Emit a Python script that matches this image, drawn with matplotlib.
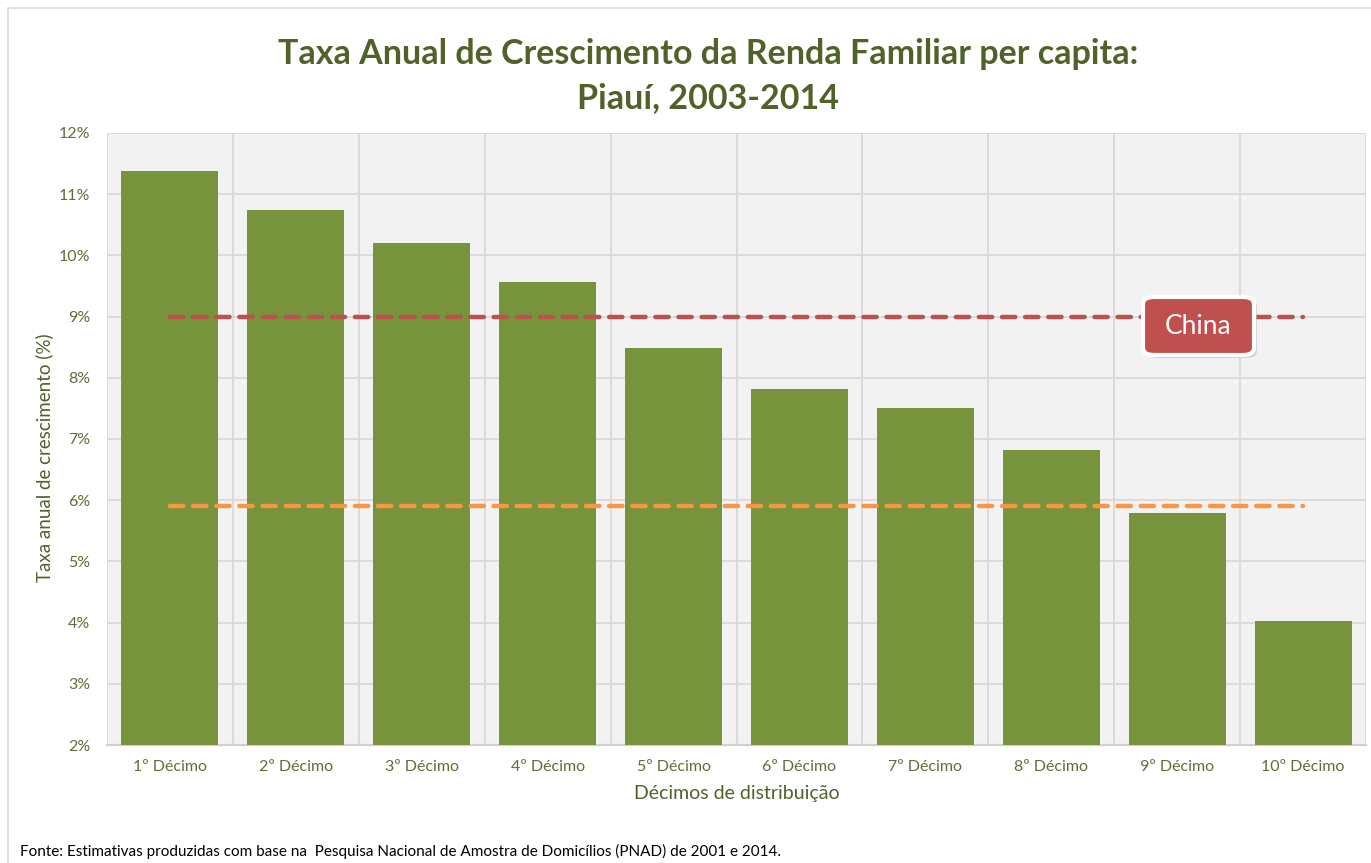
import matplotlib
matplotlib.use("Agg")
import matplotlib.pyplot as plt
from matplotlib.patches import Rectangle, FancyBboxPatch
from matplotlib.ticker import FuncFormatter, MultipleLocator
import numpy as np

categories = ["1º Décimo", "2º Décimo", "3º Décimo", "4º Décimo", "5º Décimo",
              "6º Décimo", "7º Décimo", "8º Décimo", "9º Décimo", "10º Décimo"]
growth = [11.38, 10.74, 10.21, 9.57, 8.48, 7.81, 7.50, 6.82, 5.79, 4.02]
china = [9.0] * 10
brasil = [5.9] * 10

title = "Taxa Anual de Crescimento da Renda Familiar per capita:\nPiauí, 2003-2014"
ylabel = "Taxa anual de crescimento (%)"
xlabel = "Décimos de distribuição"
source = "Fonte: Estimativas produzidas com base na  Pesquisa Nacional de Amostra de Domicílios (PNAD) de 2001 e 2014."

FONT = ["Lato", "DejaVu Sans"]
plt.rcParams['font.family'] = FONT

BAR = "#77933C"
DARK = "#4F6228"
TICK = "#5E6E3A"
RED = "#C0504D"
ORANGE = "#F79646"
GRID = "#D9D9D9"

fig = plt.figure(figsize=(13.71, 8.63), dpi=100)
fig.patch.set_facecolor("white")
fig.add_artist(Rectangle((8 / 1371, -0.01), 1.0, 1 - 8 / 863 + 0.01, transform=fig.transFigure,
                         fill=False, edgecolor=GRID, linewidth=1.2))

ax = fig.add_axes([107 / 1371, 1 - 745 / 863, (1366 - 107) / 1371, (745 - 133) / 863])
ax.set_facecolor("#F2F2F2")
x = np.arange(len(categories))
ax.bar(x, growth, width=0.77, color=BAR, zorder=3)
ax.plot(x, china, color=RED, lw=3.2, dashes=(3, 2.2), dash_capstyle="round", zorder=4)
ax.plot(x, brasil, color=ORANGE, lw=3.2, dashes=(3, 2.2), dash_capstyle="round", zorder=4)

ax.set_xlim(-0.5, 9.5)
ax.set_ylim(2, 12)
ax.yaxis.set_major_locator(MultipleLocator(1))
ax.yaxis.set_major_formatter(FuncFormatter(lambda v, p: f"{int(round(v))}%"))
ax.set_xticks(x)
ax.set_xticklabels(categories)
ax.set_xticks(np.arange(-0.5, 10, 1), minor=True)
ax.grid(axis="y", which="major", color=GRID, lw=1.3, zorder=0)
ax.grid(axis="x", which="minor", color=GRID, lw=1.3, zorder=0)
ax.tick_params(axis="both", which="both", length=0, colors=TICK, labelsize=11.5)
ax.tick_params(axis="x", pad=11)
ax.tick_params(axis="y", pad=12)
for s in ["top", "right", "left"]:
    ax.spines[s].set_visible(False)
ax.spines["bottom"].set_color("#D0D0D0")
ax.spines["bottom"].set_linewidth(1.6)

ax.set_ylabel(ylabel, color=DARK, fontsize=13.5, labelpad=4)
ax.yaxis.set_label_coords(-0.043, 0.47)
ax.set_xlabel(xlabel, color=DARK, fontsize=14, labelpad=8)

fig.text(708 / 1371, 1 - 76 / 863, title, ha="center", va="center", fontsize=24.5,
         fontweight="bold", color=DARK, linespacing=1.5)
fig.text(20 / 1371, 1 - 851 / 863, source, ha="left", va="center", fontsize=11, color="black")

# China label box
bx0, by0, bx1, by1 = 1143, 297, 1254, 355
shadow = FancyBboxPatch(((bx0 + 3) / 1371, 1 - (by1 + 3) / 863), (bx1 - bx0) / 1371, (by1 - by0) / 863,
                        boxstyle="round,pad=0,rounding_size=0.008", transform=fig.transFigure,
                        facecolor="#BBBBBB", edgecolor="none", alpha=0.6, zorder=5)
fig.add_artist(shadow)
box = FancyBboxPatch((bx0 / 1371, 1 - by1 / 863), (bx1 - bx0) / 1371, (by1 - by0) / 863,
                     boxstyle="round,pad=0,rounding_size=0.008", transform=fig.transFigure,
                     facecolor=RED, edgecolor="white", linewidth=3, zorder=6)
fig.add_artist(box)
fig.text((bx0 + bx1) / 2 / 1371, 1 - (by0 + by1) / 2 / 863, "China", ha="center", va="center",
         fontsize=19, color="white", zorder=7)

fig.savefig("out.png", dpi=100)
